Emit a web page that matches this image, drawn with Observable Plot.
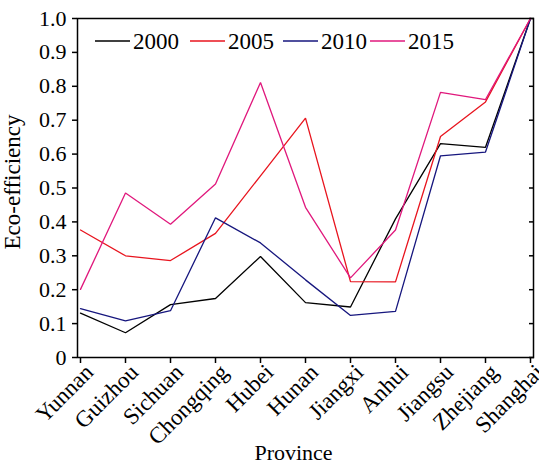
<!DOCTYPE html>
<html>
<head>
<meta charset="utf-8">
<script src="https://cdn.jsdelivr.net/npm/d3@7"></script>
<script src="https://cdn.jsdelivr.net/npm/@observablehq/plot@0.6"></script>
<style>
  body { margin: 0; background: #fff; }
  #chart { position: relative; width: 539px; height: 464px; font-family: "Liberation Serif", "Times New Roman", serif; }
  #chart svg { display: block; }
  #legend { position: absolute; left: 0; top: 0; pointer-events: none; }
</style>
</head>
<body>
<div id="chart"></div>
<script>
// Provinces along the x axis (west to east)
const provinces = ["Yunnan", "Guizhou", "Sichuan", "Chongqing", "Hubei", "Hunan", "Jiangxi", "Anhui", "Jiangsu", "Zhejiang", "Shanghai"];
const years = ["2000", "2005", "2010", "2015"];

// Eco-efficiency by province, one array per year
const eff2000 = [0.131, 0.073, 0.156, 0.174, 0.298, 0.162, 0.149, 0.409, 0.631, 0.620, 1.0];
const eff2005 = [0.376, 0.300, 0.286, 0.366, 0.536, 0.706, 0.224, 0.223, 0.652, 0.754, 1.0];
const eff2010 = [0.144, 0.108, 0.138, 0.412, 0.338, 0.229, 0.124, 0.136, 0.595, 0.606, 1.0];
const eff2015 = [0.201, 0.485, 0.393, 0.512, 0.811, 0.443, 0.235, 0.376, 0.782, 0.761, 1.0];

const yTicks = [0, 0.1, 0.2, 0.3, 0.4, 0.5, 0.6, 0.7, 0.8, 0.9, 1.0];
const seriesColors = ["#000000", "#e8141e", "#16167e", "#e0187c"];

const series = [eff2000, eff2005, eff2010, eff2015];
const rows = provinces.flatMap((p, i) =>
  years.map((yr, j) => ({province: p, year: yr, value: series[j][i]}))
);

const fmt = d => d === 0 ? "0" : d.toFixed(1);
const serif = "'Liberation Serif', 'Times New Roman', serif";

const chart = Plot.plot({
  width: 539,
  height: 464,
  marginLeft: 77,
  marginRight: 6,
  marginTop: 18,
  marginBottom: 107,
  style: {fontFamily: serif, fontSize: "22px", color: "#000", background: "#fff"},
  x: {type: "point", domain: provinces, padding: 0},
  y: {domain: [0, 1]},
  color: {domain: years, range: seriesColors},
  marks: [
    // left axis: outward ticks with labels
    Plot.axisY({ticks: yTicks, tickSize: 5, tickPadding: 6, tickFormat: fmt, label: null, fontSize: 22, strokeWidth: 1.5}),
    // right axis: inward ticks only
    Plot.axisY({anchor: "right", ticks: yTicks, tickSize: 5, dx: -5, tickFormat: () => "", label: null, strokeWidth: 1.5}),
    // bottom axis: ticks, then rotated province names
    Plot.axisX({tickSize: 6, tickFormat: () => "", label: null, strokeWidth: 1.5}),
    Plot.axisX({tickSize: 0, tickPadding: 8, tickRotate: -45, dx: 9, dy: 3, label: null, fontSize: 23}),
    Plot.line(rows, {x: "province", y: "value", z: "year", stroke: "year", strokeWidth: 1.3, strokeLinejoin: "miter"}),
    Plot.frame({strokeWidth: 1.5}),
    Plot.text(["Eco-efficiency"], {text: d => d, frameAnchor: "left", textAnchor: "middle", lineAnchor: "middle", dx: -65, dy: -6, rotate: -90, fontSize: 23}),
    Plot.text(["Province"], {text: d => d, frameAnchor: "bottom", textAnchor: "middle", lineAnchor: "middle", dx: -12, dy: 95, fontSize: 22})
  ]
});

const root = document.getElementById("chart");
root.appendChild(chart);

// Legend drawn inside the plot frame, top-left
const legendX = [95, 190, 283, 370];
const legend = d3.select(root).append("svg")
  .attr("id", "legend")
  .attr("width", 539)
  .attr("height", 80);
const item = legend.selectAll("g")
  .data(years)
  .join("g")
  .attr("transform", (d, i) => `translate(${legendX[i]},41)`);
item.append("line")
  .attr("x1", 0).attr("x2", 35)
  .attr("stroke", (d, i) => seriesColors[i])
  .attr("stroke-width", 1.3);
item.append("text")
  .attr("x", 38)
  .attr("dy", "0.35em")
  .attr("font-family", serif)
  .attr("font-size", 23)
  .attr("fill", "#000")
  .text(d => d);
</script>
</body>
</html>
